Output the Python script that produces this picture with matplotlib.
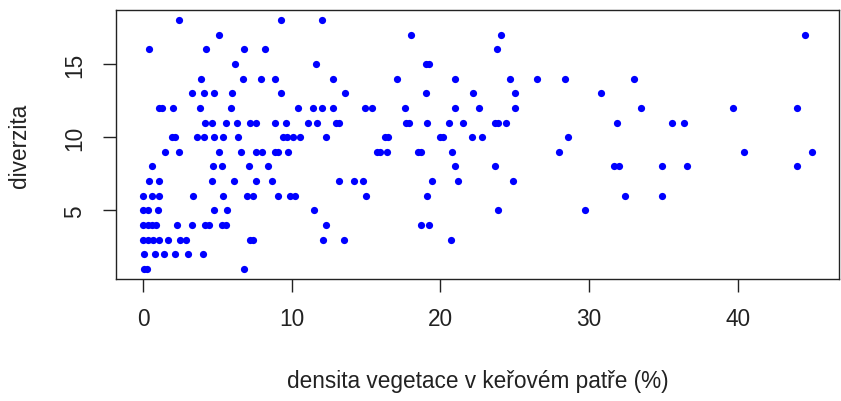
import matplotlib
matplotlib.use("Agg")
import matplotlib.pyplot as plt

# diverzita values (y) and the x positions, row by row
rows_y = [18, 17, 16, 15, 14, 13, 12, 11, 10, 9, 8, 7, 6, 5, 4, 3, 2, 1]
rows_x = [
    [2.4, 9.3, 12.0],
    [5.1, 18.0, 24.1, 44.5],
    [0.4, 4.2, 6.8, 8.2, 23.8],
    [6.2, 11.6, 19.0, 19.2],
    [3.9, 6.7, 7.9, 8.9, 12.8, 17.1, 21.0, 24.7, 26.5, 28.4, 33.0],
    [3.3, 4.1, 4.75, 6.0, 9.3, 13.6, 19.0, 22.2, 25.0, 30.8],
    [1.05, 1.25, 2.0, 3.85, 5.9, 10.45, 11.4, 12.0, 12.8, 14.9, 15.4, 17.6,
     21.0, 22.6, 25.0, 33.5, 39.7, 44.0],
    [4.15, 4.65, 5.6, 6.3, 7.2, 7.6, 8.9, 9.6, 11.1, 11.7, 13.0, 13.2, 17.7,
     17.9, 19.1, 20.6, 21.5, 23.7, 23.9, 24.4, 31.9, 35.6, 36.4],
    [1.95, 2.15, 3.6, 4.1, 4.75, 5.4, 6.4, 9.4, 9.65, 10.05, 10.55, 12.3,
     16.3, 16.5, 20.0, 20.2, 22.1, 22.8, 28.6],
    [1.45, 2.4, 5.1, 6.6, 7.6, 8.0, 8.9, 9.1, 9.75, 15.7, 15.9, 16.4, 18.5,
     18.7, 20.8, 28.0, 40.4, 45.0],
    [0.6, 4.7, 5.3, 7.1, 8.4, 21.0, 23.7, 31.7, 32.0, 34.9, 36.6, 44.0],
    [0.4, 1.1, 4.65, 6.1, 7.6, 8.65, 13.2, 14.2, 14.8, 19.4, 21.2, 24.9],
    [0.0, 0.6, 1.1, 3.35, 5.35, 7.0, 7.4, 9.05, 9.9, 10.2, 15.0, 19.1, 32.4, 34.9],
    [0.0, 0.3, 1.0, 4.8, 5.65, 11.5, 23.9, 29.7],
    [0.0, 0.3, 0.6, 0.9, 2.25, 3.3, 4.15, 4.45, 5.3, 5.6, 12.3, 18.7, 19.2],
    [0.0, 0.3, 0.7, 1.1, 1.7, 2.45, 2.9, 7.2, 7.4, 12.1, 13.5, 20.7],
    [0.05, 0.8, 1.4, 2.15, 3.05, 4.05],
    [0.05, 0.25, 6.8],
]

x_ticks = [0, 10, 20, 30, 40]
y_ticks = [5, 10, 15]

densita = []
diverzita = []
for yv, xs in zip(rows_y, rows_x):
    densita += xs
    diverzita += [yv] * len(xs)

plt.rcParams['font.family'] = ['Liberation Sans', 'DejaVu Sans']
plt.rcParams['font.size'] = 16.3

fig = plt.figure(figsize=(8.41, 4.02), dpi=100)
ax = fig.add_axes([0.1383, 0.3035, 0.8593, 0.669])

ax.plot(densita, diverzita, 'o', color='blue', markersize=5.2, markeredgewidth=0)

# R-style 4% padding
ax.set_xlim(-1.8, 46.8)
ax.set_ylim(0.32, 18.68)
ax.set_xticks(x_ticks)
ax.set_yticks(y_ticks)
ax.tick_params(direction='out', length=9.5, width=1, color='#222222',
               labelcolor='#222222')
ax.tick_params(axis='x', pad=11)
ax.tick_params(axis='y', pad=12)
for lab in ax.get_yticklabels():
    lab.set_rotation(90)
    lab.set_va('center')

for s in ax.spines.values():
    s.set_linewidth(1)
    s.set_color('#222222')

ax.set_xlabel('densita vegetace v keřovém patře (%)', va='center', color='#222222')
ax.xaxis.set_label_coords(0.5, -0.379)
ax.set_ylabel('diverzita', va='center', color='#222222')
ax.yaxis.set_label_coords(-0.1333, 0.5)

fig.savefig('out.png', dpi=100)
